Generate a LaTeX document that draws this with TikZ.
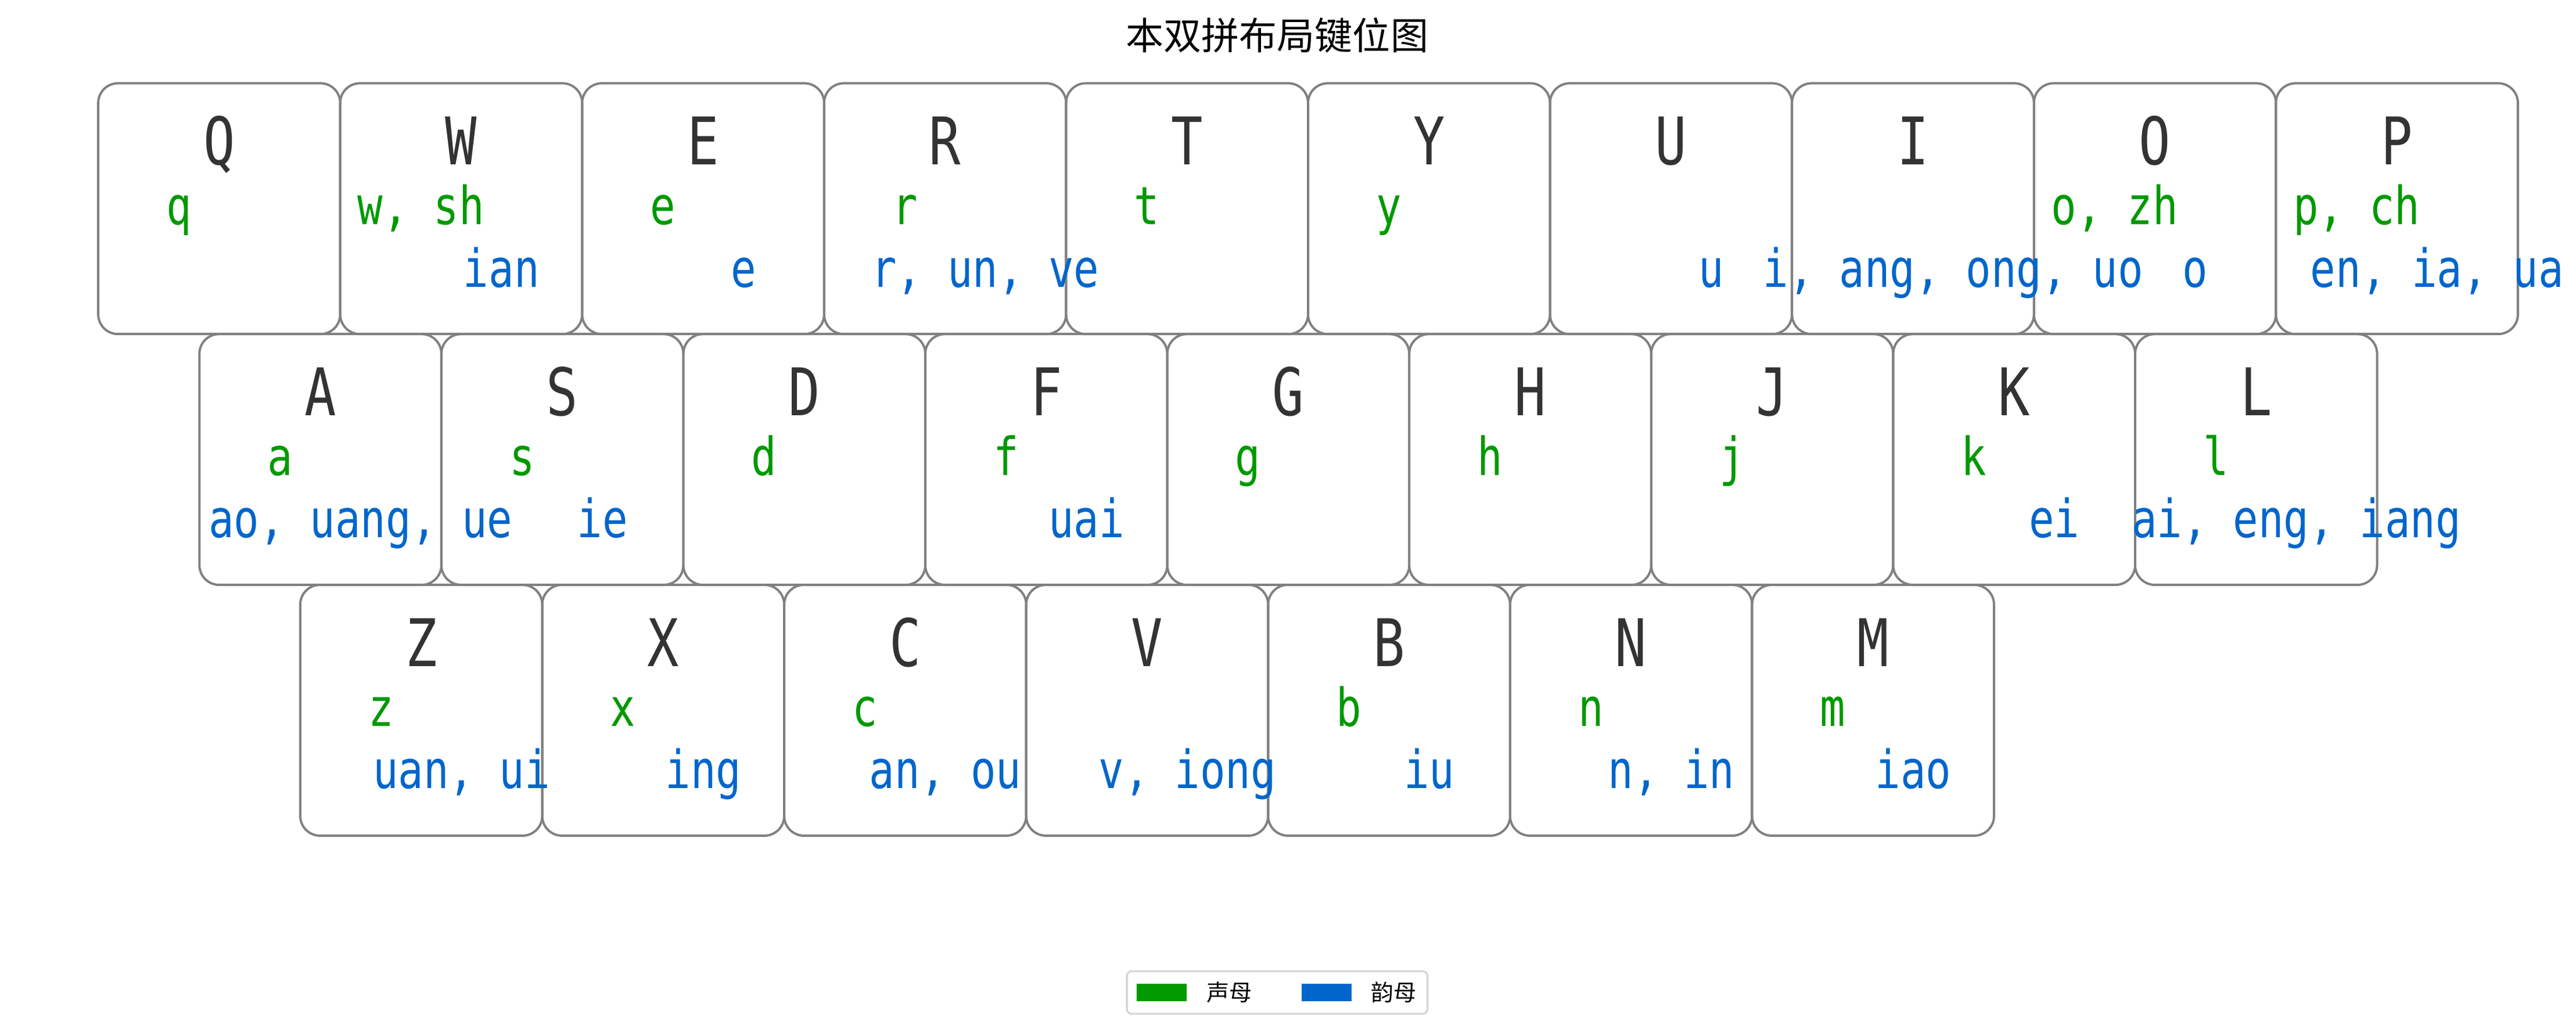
\documentclass[tikz,border=0pt]{standalone}
\usepackage{fontspec}
\setmainfont{Noto Sans CJK SC}
\newfontfamily\keyfont[FakeStretch=0.8]{DejaVu Sans Mono}
\usepackage{tikz}
\usetikzlibrary{positioning}
\definecolor{keyline}{HTML}{808080}
\definecolor{capgray}{HTML}{333333}
\definecolor{smgreen}{HTML}{009900}
\definecolor{ymblue}{HTML}{0066CC}
\definecolor{legline}{HTML}{D6D6D6}

\begin{document}
\begin{tikzpicture}[x=1pt, y=-1pt,
    key/.style = {draw=keyline, line width=1.4pt, rounded corners=12pt, minimum width=147.3pt, minimum height=152.7pt, inner sep=0pt, outer sep=0pt},
    keycap/.style = {anchor=base, yshift=-49.5pt, inner sep=0pt, text=capgray, font=\keyfont\fontsize{40}{40}\selectfont},
    sm/.style = {anchor=base, xshift=-24.5pt, yshift=-86pt, inner sep=0pt, text=smgreen, font=\keyfont\fontsize{32}{32}\selectfont},
    ym/.style = {anchor=base, xshift=24.5pt, yshift=-124pt, inner sep=0pt, text=ymblue, font=\keyfont\fontsize{32}{32}\selectfont},
    patch/.style = {minimum width=30.5pt, minimum height=10.5pt, inner sep=0pt},
    node distance=0pt
    ]
    \useasboundingbox (0,0) rectangle (1568.2,628);
    \node[font=\fontsize{23}{23}\selectfont] (title) at (777.5,21.6) {本双拼布局键位图};

    % keys
    \node[key] (Q) at (133.45,127.05) {};
    \node[key] (W) [right=of Q] {};
    \node[key] (E) [right=of W] {};
    \node[key] (R) [right=of E] {};
    \node[key] (T) [right=of R] {};
    \node[key] (Y) [right=of T] {};
    \node[key] (U) [right=of Y] {};
    \node[key] (I) [right=of U] {};
    \node[key] (O) [right=of I] {};
    \node[key] (P) [right=of O] {};

    \node[key] (A) at (195.05,279.75) {};
    \node[key] (S) [right=of A] {};
    \node[key] (D) [right=of S] {};
    \node[key] (F) [right=of D] {};
    \node[key] (G) [right=of F] {};
    \node[key] (H) [right=of G] {};
    \node[key] (J) [right=of H] {};
    \node[key] (K) [right=of J] {};
    \node[key] (L) [right=of K] {};

    \node[key] (Z) at (256.45,432.45) {};
    \node[key] (X) [right=of Z] {};
    \node[key] (C) [right=of X] {};
    \node[key] (V) [right=of C] {};
    \node[key] (B) [right=of V] {};
    \node[key] (N) [right=of B] {};
    \node[key] (M) [right=of N] {};

    % letters and labels
    \node[keycap] (Qk) at (Q.north) {Q};
    \node[sm] (Qs) at (Q.north) {q};
    \node[keycap] (Wk) at (W.north) {W};
    \node[sm] (Ws) at (W.north) {w, sh};
    \node[ym] (Wy) at (W.north) {ian};
    \node[keycap] (Ek) at (E.north) {E};
    \node[sm] (Es) at (E.north) {e};
    \node[ym] (Ey) at (E.north) {e};
    \node[keycap] (Rk) at (R.north) {R};
    \node[sm] (Rs) at (R.north) {r};
    \node[ym] (Ry) at (R.north) {r, un, ve};
    \node[keycap] (Tk) at (T.north) {T};
    \node[sm] (Ts) at (T.north) {t};
    \node[keycap] (Yk) at (Y.north) {Y};
    \node[sm] (Ys) at (Y.north) {y};
    \node[keycap] (Uk) at (U.north) {U};
    \node[ym] (Uy) at (U.north) {u};
    \node[keycap] (Ik) at (I.north) {I};
    \node[ym] (Iy) at (I.north) {i, ang, ong, uo};
    \node[keycap] (Ok) at (O.north) {O};
    \node[sm] (Os) at (O.north) {o, zh};
    \node[ym] (Oy) at (O.north) {o};
    \node[keycap] (Pk) at (P.north) {P};
    \node[sm] (Ps) at (P.north) {p, ch};
    \node[ym] (Py) at (P.north) {en, ia, ua};

    \node[keycap] (Ak) at (A.north) {A};
    \node[sm] (As) at (A.north) {a};
    \node[ym] (Ay) at (A.north) {ao, uang, ue};
    \node[keycap] (Sk) at (S.north) {S};
    \node[sm] (Ss) at (S.north) {s};
    \node[ym] (Sy) at (S.north) {ie};
    \node[keycap] (Dk) at (D.north) {D};
    \node[sm] (Ds) at (D.north) {d};
    \node[keycap] (Fk) at (F.north) {F};
    \node[sm] (Fs) at (F.north) {f};
    \node[ym] (Fy) at (F.north) {uai};
    \node[keycap] (Gk) at (G.north) {G};
    \node[sm] (Gs) at (G.north) {g};
    \node[keycap] (Hk) at (H.north) {H};
    \node[sm] (Hs) at (H.north) {h};
    \node[keycap] (Jk) at (J.north) {J};
    \node[sm] (Js) at (J.north) {j};
    \node[keycap] (Kk) at (K.north) {K};
    \node[sm] (Ks) at (K.north) {k};
    \node[ym] (Ky) at (K.north) {ei};
    \node[keycap] (Lk) at (L.north) {L};
    \node[sm] (Ls) at (L.north) {l};
    \node[ym] (Ly) at (L.north) {ai, eng, iang};

    \node[keycap] (Zk) at (Z.north) {Z};
    \node[sm] (Zs) at (Z.north) {z};
    \node[ym] (Zy) at (Z.north) {uan, ui};
    \node[keycap] (Xk) at (X.north) {X};
    \node[sm] (Xs) at (X.north) {x};
    \node[ym] (Xy) at (X.north) {ing};
    \node[keycap] (Ck) at (C.north) {C};
    \node[sm] (Cs) at (C.north) {c};
    \node[ym] (Cy) at (C.north) {an, ou};
    \node[keycap] (Vk) at (V.north) {V};
    \node[ym] (Vy) at (V.north) {v, iong};
    \node[keycap] (Bk) at (B.north) {B};
    \node[sm] (Bs) at (B.north) {b};
    \node[ym] (By) at (B.north) {iu};
    \node[keycap] (Nk) at (N.north) {N};
    \node[sm] (Ns) at (N.north) {n};
    \node[ym] (Ny) at (N.north) {n, in};
    \node[keycap] (Mk) at (M.north) {M};
    \node[sm] (Ms) at (M.north) {m};
    \node[ym] (My) at (M.north) {iao};

    % legend
    \node[draw=legline, line width=1.2pt, rounded corners=3pt, minimum width=183pt, minimum height=26pt, inner sep=0pt] (legend) at (777.5,604.3) {};
    \node[patch, fill=smgreen] (p1) at (707.3,604.3) {};
    \node[font=\fontsize{13.8}{13.8}\selectfont] (t1) at (748.5,604.3) {声母};
    \node[patch, fill=ymblue] (p2) at (807.5,604.3) {};
    \node[font=\fontsize{13.8}{13.8}\selectfont] (t2) at (848.5,604.3) {韵母};
\end{tikzpicture}
\end{document}
